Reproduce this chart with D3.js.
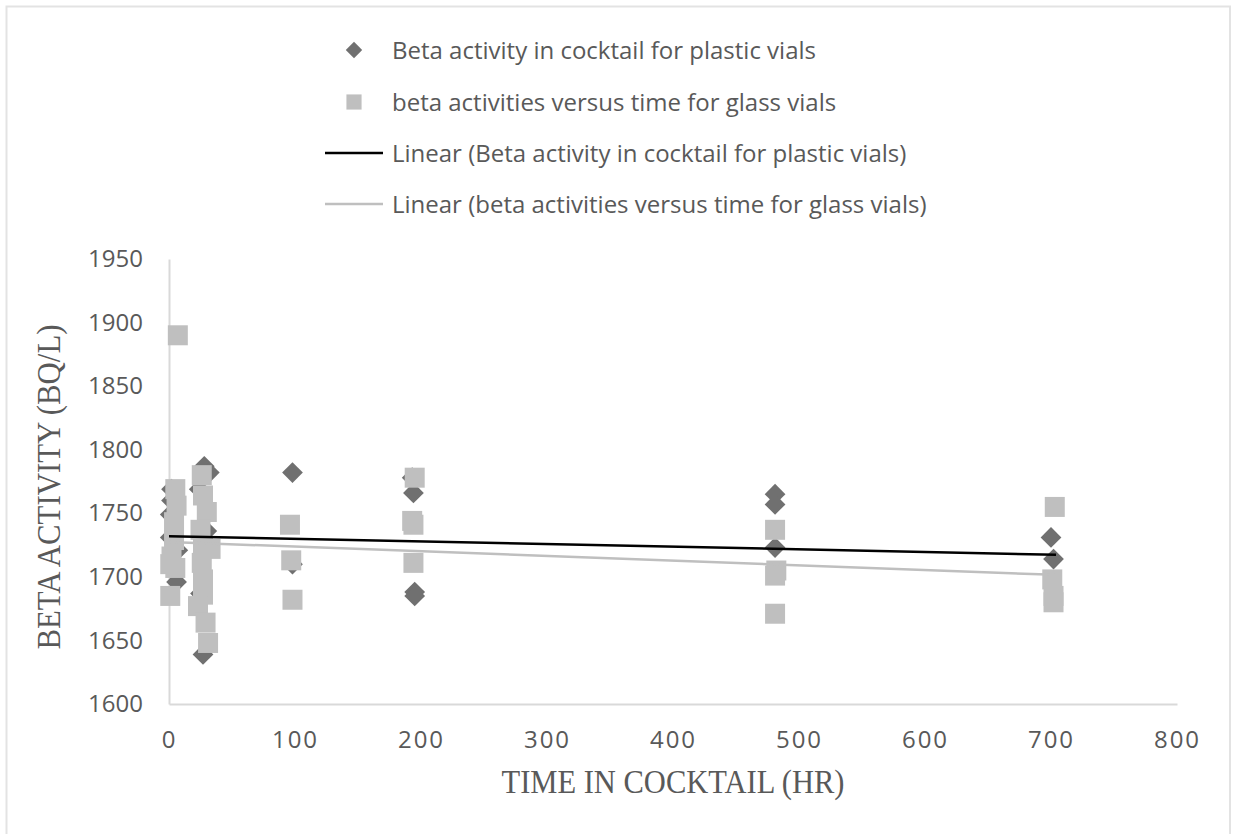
<!DOCTYPE html>
<html>
<head>
<meta charset="utf-8">
<script src="https://cdn.jsdelivr.net/npm/d3@7"></script>
<style>
  html, body { margin: 0; padding: 0; background: #ffffff; }
  svg { display: block; }
</style>
</head>
<body>
<svg id="chart" width="1239" height="834"></svg>
<script>
// ---------------- DATA ----------------
const plasticTime     = [2, 2, 1, 1, 7, 6, 28, 32, 24, 30, 25, 27, 98, 98, 193, 194, 195, 195, 481, 481, 481, 700, 702];
const plasticActivity = [1769, 1760, 1749, 1731, 1721, 1696, 1787, 1782, 1769, 1736, 1687, 1639, 1782, 1710, 1778, 1766, 1688, 1685, 1765, 1757, 1723, 1731, 1714];

const glassTime     = [7, 5, 6, 4, 4, 2, 1, 5, 1, 26, 27, 30, 25, 27, 33, 26, 27, 27, 23, 29, 31, 96, 97, 98, 195, 193, 194, 194, 481, 482, 481, 481, 703, 701, 702, 702];
const glassActivity = [1890, 1769, 1756, 1743, 1729, 1716, 1710, 1707, 1685, 1780, 1764, 1751, 1737, 1724, 1722, 1711, 1698, 1686, 1677, 1664, 1648, 1741, 1713, 1682, 1778, 1744, 1741, 1711, 1737, 1705, 1701, 1671, 1755, 1698, 1685, 1680];

// linear trend lines (start / end)
const trendTime    = [0, 704];
const plasticTrend = [1732, 1717.4];
const glassTrendTime = [0, 703];
const glassTrend   = [1727.5, 1701.6];

const xTicks = [0, 100, 200, 300, 400, 500, 600, 700, 800];
const yTicks = [1600, 1650, 1700, 1750, 1800, 1850, 1900, 1950];

const seriesNames = [
  "Beta activity in cocktail for plastic vials",
  "beta activities versus time for glass vials",
  "Linear (Beta activity in cocktail for plastic vials)",
  "Linear (beta activities versus time for glass vials)"
];
const xTitle = "TIME IN COCKTAIL (HR)";
const yTitle = "BETA ACTIVITY (BQ/L)";

// ---------------- DRAW ----------------
const svg = d3.select("#chart");
const textColor = "#595959";
const axisColor = "#d9d9d9";
const plasticColor = "#707070";
const glassColor = "#bfbfbf";

// chart frame
svg.append("rect")
  .attr("x", 6.5).attr("y", 6.5)
  .attr("width", 1223.5).attr("height", 840)
  .attr("fill", "none").attr("stroke", "#e3e3e3").attr("stroke-width", 2);

const x = d3.scaleLinear().domain([0, 800]).range([169, 1177]);
const y = d3.scaleLinear().domain([1600, 1950]).range([704, 259]);

// axes
const xAxis = svg.append("g")
  .attr("transform", `translate(0,${y(1600)})`)
  .call(d3.axisBottom(x).tickValues(xTicks).tickSize(0).tickPadding(27).tickFormat(d3.format("d")));
const yAxis = svg.append("g")
  .attr("transform", `translate(${x(0)},0)`)
  .call(d3.axisLeft(y).tickValues(yTicks).tickSize(0).tickPadding(26).tickFormat(d3.format("d")));

[xAxis, yAxis].forEach(g => {
  g.select(".domain").attr("stroke", axisColor).attr("stroke-width", 2);
  g.selectAll("text")
    .attr("fill", textColor)
    .style("font-family", "'Open Sans', sans-serif")
    .style("font-size", "24px");
});
xAxis.selectAll("text").style("letter-spacing", "2px");

// plastic diamonds
const diamond = d3.symbol().type(d3.symbolSquare).size(215);
svg.append("g").selectAll("path")
  .data(plasticTime.map((t, i) => [t, plasticActivity[i]]))
  .join("path")
  .attr("d", diamond)
  .attr("transform", d => `translate(${x(d[0])},${y(d[1])}) rotate(45)`)
  .attr("fill", plasticColor);

// glass squares
const square = d3.symbol().type(d3.symbolSquare).size(400);
svg.append("g").selectAll("path")
  .data(glassTime.map((t, i) => [t, glassActivity[i]]))
  .join("path")
  .attr("d", square)
  .attr("transform", d => `translate(${x(d[0])},${y(d[1])})`)
  .attr("fill", glassColor);

// trend lines
const line = d3.line().x(d => x(d[0])).y(d => y(d[1]));
svg.append("path")
  .datum(glassTrendTime.map((t, i) => [t, glassTrend[i]]))
  .attr("d", line).attr("fill", "none")
  .attr("stroke", glassColor).attr("stroke-width", 2.5);
svg.append("path")
  .datum(trendTime.map((t, i) => [t, plasticTrend[i]]))
  .attr("d", line).attr("fill", "none")
  .attr("stroke", "#000000").attr("stroke-width", 2.5);

// axis titles
svg.append("text")
  .attr("x", 673).attr("y", 793)
  .attr("text-anchor", "middle")
  .attr("textLength", 343).attr("lengthAdjust", "spacingAndGlyphs")
  .attr("fill", textColor)
  .style("font-family", "'Liberation Serif', 'Times New Roman', serif")
  .style("font-size", "33px")
  .text(xTitle);

svg.append("text")
  .attr("transform", "translate(60,487) rotate(-90)")
  .attr("text-anchor", "middle")
  .attr("textLength", 325).attr("lengthAdjust", "spacingAndGlyphs")
  .attr("fill", textColor)
  .style("font-family", "'Liberation Serif', 'Times New Roman', serif")
  .style("font-size", "33px")
  .text(yTitle);

// legend
const legendY = [50, 102, 153, 204];
const legend = svg.append("g");
legend.append("path")
  .attr("d", d3.symbol().type(d3.symbolSquare).size(135)())
  .attr("transform", `translate(354,${legendY[0]}) rotate(45)`)
  .attr("fill", plasticColor);
legend.append("path")
  .attr("d", d3.symbol().type(d3.symbolSquare).size(230)())
  .attr("transform", `translate(354,${legendY[1]})`)
  .attr("fill", glassColor);
legend.append("line")
  .attr("x1", 325).attr("x2", 383).attr("y1", legendY[2]).attr("y2", legendY[2])
  .attr("stroke", "#000000").attr("stroke-width", 2.5);
legend.append("line")
  .attr("x1", 325).attr("x2", 383).attr("y1", legendY[3]).attr("y2", legendY[3])
  .attr("stroke", glassColor).attr("stroke-width", 2.5);
legend.selectAll("text")
  .data(seriesNames)
  .join("text")
  .attr("x", 392)
  .attr("y", (d, i) => legendY[i])
  .attr("dy", "0.36em")
  .attr("fill", textColor)
  .style("font-family", "'Open Sans', sans-serif")
  .style("font-size", "24px")
  .text(d => d);
</script>
</body>
</html>
